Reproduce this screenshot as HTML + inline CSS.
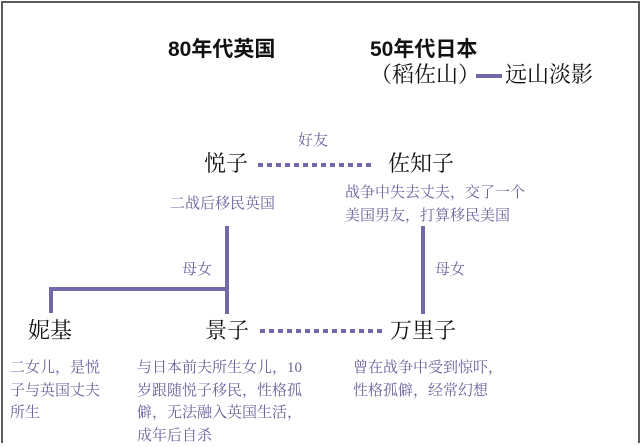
<!DOCTYPE html>
<html><head><meta charset="utf-8"><style>
body{margin:0;width:640px;height:434px;overflow:hidden;background:#fff;position:relative;font-family:"Liberation Serif","Noto Serif CJK SC",serif}
.a{position:absolute;white-space:nowrap;line-height:1}
.h{font-family:"Liberation Sans","Noto Sans CJK SC",sans-serif;font-weight:bold;font-size:21px;color:#111}
.n{font-size:22px;color:#111}
.d{font-size:15px;color:#6a629c;line-height:22.5px}
.l{position:absolute;background:#7169a8}
.dot{position:absolute;height:4px;background:repeating-linear-gradient(90deg,#7169a8 0 5px,transparent 5px 9px)}
</style></head><body>
<div style="position:absolute;left:1px;top:1px;width:635px;height:440px;border:2px solid #5a5a5a;border-bottom:none"></div>
<div class="a h" style="left:168px;top:39px">80年代英国</div>
<div class="a h" style="left:370px;top:39px">50年代日本</div>
<div class="a" style="left:370px;top:64px;font-size:22px;color:#111">（稻佐山）</div>
<div class="l" style="left:476px;top:74px;width:26px;height:4px"></div>
<div class="a" style="left:505px;top:64px;font-size:22px;color:#111">远山淡影</div>
<div class="a d" style="left:298px;top:130px">好友</div>
<div class="a n" style="left:204px;top:153px">悦子</div>
<div class="dot" style="left:258px;top:163px;width:115px"></div>
<div class="a n" style="left:388px;top:153px">佐知子</div>
<div class="a d" style="left:170px;top:193px">二战后移民英国</div>
<div class="a d" style="left:345px;top:182px">战争中失去丈夫，交了一个<br>美国男友，打算移民美国</div>
<div class="l" style="left:225px;top:226px;width:4px;height:88px"></div>
<div class="l" style="left:421px;top:226px;width:4px;height:88px"></div>
<div class="l" style="left:49px;top:287px;width:180px;height:4px"></div>
<div class="l" style="left:49px;top:287px;width:4px;height:26px"></div>
<div class="a d" style="left:182px;top:259px">母女</div>
<div class="a d" style="left:435px;top:259px">母女</div>
<div class="a n" style="left:28px;top:320px">妮基</div>
<div class="a n" style="left:205px;top:320px">景子</div>
<div class="dot" style="left:260px;top:329px;width:122px"></div>
<div class="a n" style="left:390px;top:320px">万里子</div>
<div class="a d" style="left:10px;top:357px">二女儿，是悦<br>子与英国丈夫<br>所生</div>
<div class="a d" style="left:137px;top:357px">与日本前夫所生女儿，10<br>岁跟随悦子移民，性格孤<br>僻，无法融入英国生活，<br>成年后自杀</div>
<div class="a d" style="left:353px;top:357px">曾在战争中受到惊吓，<br>性格孤僻，经常幻想</div>
</body></html>
